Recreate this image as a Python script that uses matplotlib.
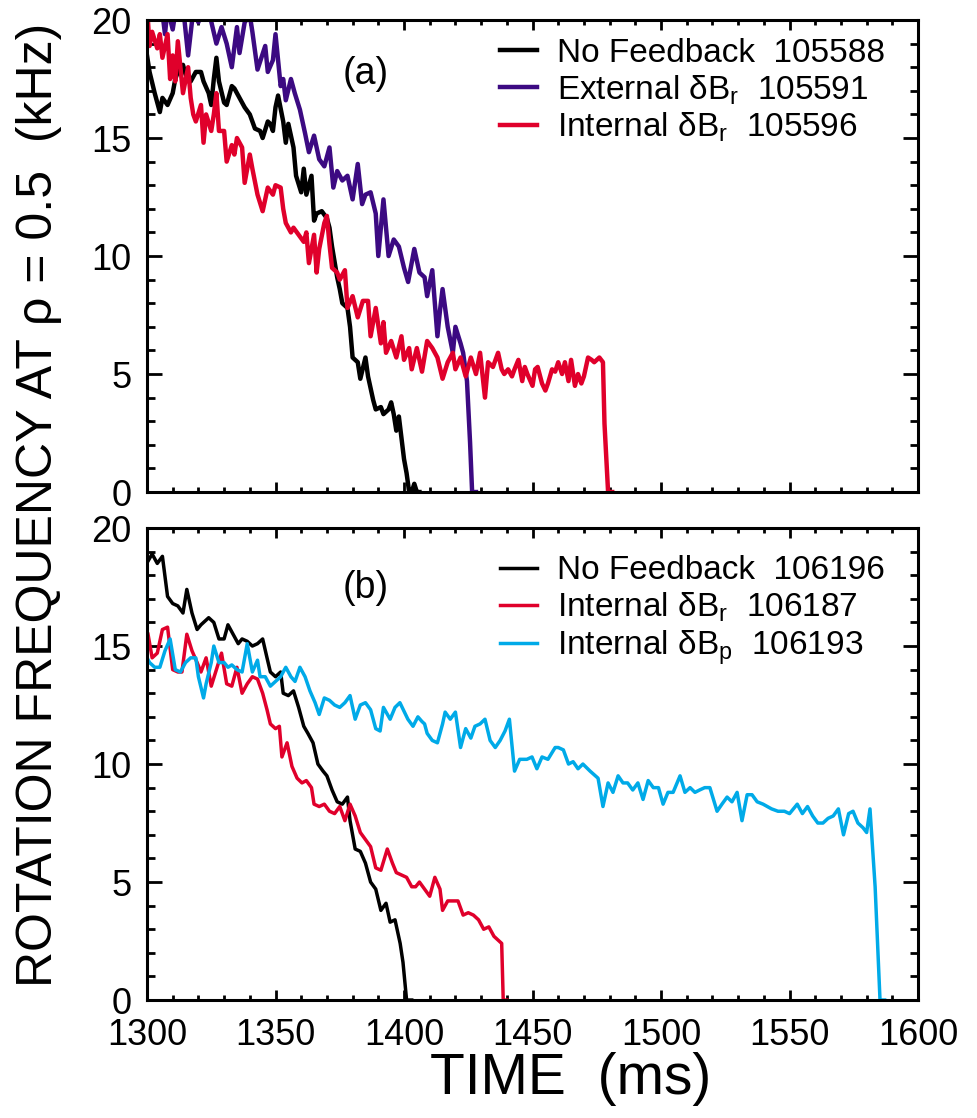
import matplotlib
matplotlib.use("Agg")
import matplotlib.pyplot as plt
from matplotlib.ticker import MultipleLocator

# panel (a): shots 105588 / 105591 / 105596
a_nofb_t = [1300, 1301, 1303, 1305, 1306, 1308, 1310, 1311, 1312, 1314, 1315, 1317, 1319, 1321,
            1322, 1324, 1325, 1326, 1327, 1328, 1330, 1331, 1333, 1334, 1336, 1338, 1340, 1342,
            1344, 1345, 1347, 1348, 1349, 1350, 1351, 1353, 1354, 1355, 1357, 1358, 1360, 1361,
            1362, 1364, 1365, 1366, 1368, 1370, 1371, 1372, 1374, 1375, 1376, 1378, 1379, 1380,
            1382, 1383, 1385, 1386, 1388, 1389, 1391, 1392, 1394, 1395, 1396, 1397, 1398, 1400,
            1401, 1402, 1403, 1404, 1405, 1406]
a_nofb_v = [18.5, 17.8, 16.9, 16.1, 16.7, 16.4, 16.9, 17.5, 17.8, 18.1, 17.7, 17.4, 17.8, 17.8,
            17.4, 16.9, 16.4, 17.5, 18.4, 17.4, 16.5, 16.4, 17.2, 17.1, 16.7, 16.3, 16.0, 15.4,
            15.3, 15.0, 15.7, 15.6, 15.3, 16.3, 16.8, 15.7, 14.8, 15.6, 14.6, 13.4, 12.7, 13.7,
            12.6, 13.4, 11.5, 11.8, 11.9, 11.6, 11.2, 10.4, 9.1, 8.6, 8.0, 7.8, 7.0, 5.7,
            5.5, 4.8, 5.7, 4.9, 3.9, 3.5, 3.6, 3.3, 3.5, 3.8, 3.3, 2.6, 3.2, 1.4,
            0.8, 0.0, 0.0, 0.35, 0.0, 0.0]

a_ext_t = [1300, 1302, 1304, 1306, 1307, 1308, 1310, 1312, 1314, 1316, 1318, 1320, 1322, 1324,
           1327, 1329, 1331, 1333, 1335, 1336, 1338, 1340, 1341, 1343, 1346, 1347, 1349, 1350,
           1352, 1353, 1354, 1356, 1357.5, 1359.5, 1361.5, 1363, 1365, 1367, 1369, 1371, 1372.5,
           1374, 1376, 1378, 1380, 1382, 1383.7, 1385, 1387, 1389, 1390, 1392, 1394, 1396, 1398,
           1400, 1401.6, 1404, 1406, 1408, 1409, 1411, 1413, 1414, 1415, 1417, 1419, 1420, 1422,
           1423, 1424.5, 1425.7, 1426.5, 1428]
a_ext_v = [22.0, 21.5, 21.0, 20.3, 19.4, 20.5, 19.6, 21.0, 20.6, 18.5, 20.4, 19.9, 21.0, 20.4,
           19.0, 19.7, 19.0, 18.0, 19.7, 18.6, 19.9, 20.2, 19.5, 17.9, 18.9, 17.8, 18.3, 19.4,
           17.2, 17.5, 16.6, 17.5, 16.9, 16.2, 15.2, 14.4, 15.1, 14.1, 13.8, 14.6, 12.9,
           13.6, 13.2, 13.4, 12.4, 13.9, 12.2, 12.6, 12.7, 11.8, 10.0, 12.4, 10.0, 10.7, 10.4,
           9.5, 8.9, 10.3, 9.3, 9.1, 8.3, 9.4, 6.6, 7.7, 8.6, 7.0, 5.9, 7.0, 6.3,
           5.9, 4.7, 2.1, 0.0, 0.0]

a_int_t = [1300, 1301, 1302, 1304, 1305, 1306, 1308, 1309, 1310, 1311, 1312, 1314, 1316, 1317,
           1318, 1319, 1321, 1322, 1323, 1325, 1326, 1327, 1328, 1330, 1331, 1333, 1334, 1335,
           1337, 1338, 1340, 1341, 1343, 1345, 1347, 1349, 1350, 1352, 1353, 1354, 1356, 1357,
           1359, 1361, 1362, 1363, 1365, 1366, 1367, 1369, 1370, 1371, 1372, 1374, 1375, 1377,
           1378, 1380, 1382, 1384, 1386, 1387, 1389, 1391, 1392, 1393, 1395, 1397, 1399, 1400,
           1402, 1403, 1405, 1407, 1409, 1411, 1413, 1415, 1417, 1419, 1420, 1422, 1424, 1426,
           1428, 1429.6, 1431.5, 1432.7, 1434.6, 1436.6, 1438, 1439, 1440.5, 1442, 1443, 1444.5,
           1446, 1447, 1448, 1450, 1451, 1452, 1453.7, 1455, 1456, 1457.6, 1458.8, 1460, 1461.5,
           1462.6, 1464, 1465, 1466.5, 1467.7, 1469, 1470, 1471.6, 1473, 1474, 1476, 1477.4,
           1478, 1479.4, 1481]
a_int_v = [20.6, 18.9, 19.5, 18.8, 19.4, 18.4, 19.4, 17.5, 18.5, 17.4, 19.1, 16.9, 18.0, 16.7,
           16.0, 15.7, 16.4, 14.8, 16.0, 15.3, 16.0, 16.9, 15.3, 15.3, 14.0, 14.7, 14.3, 15.0,
           14.6, 13.1, 14.3, 13.7, 12.6, 11.9, 12.9, 12.6, 13.0, 12.9, 12.0, 11.4, 11.0, 11.2,
           10.9, 10.6, 11.0, 9.7, 10.9, 9.3, 10.3, 11.4, 11.7, 10.5, 9.5, 9.3, 9.0, 9.4,
           7.8, 8.3, 7.4, 8.1, 8.1, 6.6, 7.8, 6.3, 7.2, 5.9, 6.4, 5.7, 6.6, 5.6,
           6.1, 5.2, 6.1, 5.1, 6.4, 6.1, 5.7, 4.8, 5.5, 5.9, 5.2, 5.7, 4.9, 5.7,
           5.0, 5.9, 4.0, 5.5, 5.3, 5.9, 5.2, 5.0, 5.2, 4.9, 5.2, 5.6,
           4.7, 5.3, 5.0, 4.5, 5.2, 5.3, 4.6, 4.3, 4.6, 5.2, 5.1, 5.5, 5.0,
           5.5, 4.7, 5.6, 4.5, 5.0, 4.6, 4.9, 5.7, 5.6, 5.5, 5.7, 5.5,
           2.9, 0.0, 0.0]

# panel (b): shots 106196 / 106187 / 106193
b_nofb_t = [1300.4, 1302, 1304, 1306, 1308, 1310, 1312, 1314, 1315.5, 1317.5, 1319.5, 1321, 1324,
            1326, 1328, 1330, 1331.5, 1333.5, 1335.5, 1337, 1339, 1341, 1343, 1345, 1346.7, 1348,
            1350, 1352, 1353, 1355, 1357, 1359, 1361, 1362.6, 1364.6, 1366.5, 1368.5, 1370, 1372,
            1374, 1376, 1378, 1379, 1381, 1383, 1385, 1387, 1389, 1391, 1393, 1394.6, 1396.5,
            1398.5, 1399.6, 1401, 1403]
b_nofb_v = [18.6, 18.9, 18.5, 18.8, 17.1, 16.8, 16.7, 16.4, 17.4, 16.4, 15.7, 15.9, 16.2,
            16.0, 15.3, 15.3, 15.9, 15.5, 15.1, 15.3, 15.2, 15.0, 15.1, 15.3, 14.5, 13.9,
            13.7, 13.9, 13.0, 12.9, 13.1, 12.4, 11.6, 11.3, 10.9, 10.0, 9.7, 9.5, 8.9,
            8.4, 8.3, 8.6, 7.6, 6.4, 6.3, 5.8, 5.0, 4.7, 3.8, 4.1, 3.3, 3.4,
            2.4, 1.6, 0.0, 0.0]

b_intr_t = [1300.4, 1302, 1304, 1306, 1308, 1310, 1312, 1313.6, 1315.5, 1317.5, 1319.5, 1321, 1323,
            1325, 1327, 1329, 1331, 1333, 1335, 1337, 1339, 1341, 1343, 1345, 1346.7, 1348, 1350,
            1351.5, 1352.5, 1354.5, 1356.4, 1358.4, 1360.3, 1362, 1364, 1365, 1367, 1369, 1371,
            1373, 1375, 1377, 1379, 1381, 1383, 1385, 1387, 1389, 1391, 1393.5, 1395.5, 1397,
            1399, 1401, 1403, 1404.5, 1406, 1408, 1410, 1412, 1414, 1415, 1417, 1419, 1421, 1423,
            1425, 1427, 1429, 1431, 1433, 1435, 1437, 1438, 1438.6, 1440]
b_intr_v = [15.5, 14.5, 14.7, 15.7, 15.8, 14.0, 13.9, 13.9, 15.5, 14.8, 14.3, 13.9, 14.5,
            13.3, 14.0, 14.7, 13.4, 13.3, 14.1, 13.0, 13.4, 13.7, 13.6, 13.0, 12.3, 11.7, 11.5,
            11.6, 10.3, 10.9, 9.9, 9.4, 9.2, 9.3, 9.0, 8.3, 8.2, 8.3, 8.0,
            7.9, 8.2, 7.6, 8.3, 7.8, 7.1, 6.8, 6.5, 5.6, 5.5, 6.4, 5.8, 5.4,
            5.3, 5.2, 4.8, 4.8, 5.0, 4.7, 4.4, 5.2, 4.7, 3.8, 4.2, 4.2, 4.2, 3.6,
            3.7, 3.6, 3.4, 3.0, 3.1, 2.7, 2.5, 2.4, 0.0, 0.0]

b_intp_t = [1300, 1301, 1303, 1305, 1307, 1309, 1311, 1313, 1315, 1317, 1319, 1320, 1322, 1323,
            1325, 1326, 1328, 1330, 1331.5, 1333, 1335, 1337, 1339, 1341, 1343, 1344, 1346, 1348,
            1350, 1352, 1354, 1356, 1357.6, 1359.5, 1361.5, 1363.4, 1365.4, 1367, 1369, 1371, 1373,
            1375, 1377, 1379, 1381, 1383, 1385, 1387, 1389, 1390.7, 1392, 1394.6, 1396.5, 1398.4,
            1401.5, 1403.5, 1405.4, 1407, 1408, 1409, 1411, 1413, 1415, 1416, 1418, 1420, 1422,
            1424, 1426, 1427.6, 1429.6, 1431.5, 1433.5, 1435.5, 1437.4, 1439.3, 1441, 1443, 1445,
            1447.8, 1449.8, 1451.7, 1453.7, 1456, 1458.8, 1460, 1462, 1464, 1465.8, 1467.7, 1469.6,
            1472.4, 1475.5, 1477.4, 1479.4, 1481.3, 1483.3, 1485.2, 1487, 1489, 1491, 1493, 1495,
            1497, 1499, 1500.8, 1502.7, 1504.7, 1507.4, 1509.3, 1511.3, 1513.2, 1515, 1517, 1519,
            1521.8, 1523.7, 1525.7, 1527.6, 1529.6, 1531.5, 1533.5, 1535.4, 1537.4, 1539.7, 1543,
            1545.5, 1548, 1550, 1553, 1555, 1557, 1559, 1561, 1563, 1565, 1567, 1569, 1571, 1573,
            1574.7, 1576.6, 1578.6, 1580, 1581.3, 1583.3, 1585.2, 1587]
b_intp_v = [14.5, 14.3, 14.1, 14.1, 14.8, 15.3, 14.0, 13.9, 14.3, 14.5, 14.5, 13.7, 12.8, 13.4,
            14.3, 15.0, 14.3, 14.3, 14.1, 14.2, 14.0, 13.9, 15.1, 13.9, 14.4, 13.7, 13.7, 13.3,
            13.5, 13.7, 14.1, 13.7, 13.5, 14.1, 13.7, 13.1, 12.6, 12.1, 12.8, 12.7, 12.5,
            12.4, 12.6, 12.9, 11.9, 12.5, 12.6, 12.3, 11.5, 11.4, 12.4, 11.9, 12.4, 12.6,
            11.9, 11.6, 12.0, 11.8, 11.7, 11.3, 11.0, 10.9, 11.7, 12.2, 11.9, 12.2, 10.7,
            11.5, 11.1, 11.6, 11.7, 11.9, 11.0, 10.7, 11.0, 11.4, 11.9, 9.7, 10.2,
            10.2, 10.3, 9.8, 10.3, 10.2, 10.7, 10.7, 10.6, 10.0, 10.1, 9.8, 10.0,
            9.7, 9.4, 8.2, 9.2, 8.8, 9.5, 9.2, 9.2, 8.9, 9.2, 8.5, 9.3,
            9.0, 9.0, 8.3, 8.8, 8.8, 9.5, 8.8, 9.0, 8.8, 8.9, 9.0, 9.0,
            8.0, 8.3, 8.6, 8.4, 8.8, 7.6, 8.7, 8.7, 8.4, 8.3, 8.1,
            8.0, 8.0, 7.9, 8.3, 7.9, 8.2, 7.8, 7.5, 7.5, 7.7, 7.8, 8.1, 7.0, 7.9,
            8.0, 7.5, 7.3, 7.1, 8.1, 4.8, 0.0, 0.0]

labels_a = ["No Feedback  105588",
            r"External δB$_\mathregular{r}$  105591",
            r"Internal δB$_\mathregular{r}$  105596"]
labels_b = ["No Feedback  106196",
            r"Internal δB$_\mathregular{r}$  106187",
            r"Internal δB$_\mathregular{p}$  106193"]

BLACK = "#000000"
PURPLE = "#3c0a82"
RED = "#e0002b"
CYAN = "#00aae8"

plt.rcParams["font.family"] = ["Liberation Sans", "DejaVu Sans"]
plt.rcParams["mathtext.fontset"] = "custom"
plt.rcParams["mathtext.rm"] = "Liberation Sans"

fig = plt.figure(figsize=(9.78, 11.18), dpi=100)
ax_a = fig.add_axes([0.1503, 0.5599, 0.7884, 0.4222])
ax_b = fig.add_axes([0.1503, 0.1055, 0.7884, 0.4222])

ax_a.plot(a_nofb_t, a_nofb_v, color=BLACK, lw=3.2, label=labels_a[0])
ax_a.plot(a_ext_t, a_ext_v, color=PURPLE, lw=3.2, label=labels_a[1])
ax_a.plot(a_int_t, a_int_v, color=RED, lw=3.2, label=labels_a[2])

ax_b.plot(b_nofb_t, b_nofb_v, color=BLACK, lw=2.5, label=labels_b[0])
ax_b.plot(b_intr_t, b_intr_v, color=RED, lw=2.5, label=labels_b[1])
ax_b.plot(b_intp_t, b_intp_v, color=CYAN, lw=2.5, label=labels_b[2])

# per-panel tag position and legend anchor (axes fractions)
panels = [(ax_a, "(a)", 0.885, 0.962), (ax_b, "(b)", 0.874, 0.942)]

for ax, tag, tag_y, leg_y in panels:
    ax.set_xlim(1300, 1600)
    ax.set_ylim(0, 20)
    ax.xaxis.set_major_locator(MultipleLocator(50))
    ax.xaxis.set_minor_locator(MultipleLocator(10))
    ax.yaxis.set_major_locator(MultipleLocator(5))
    ax.yaxis.set_minor_locator(MultipleLocator(1))
    ax.tick_params(axis="both", which="both", direction="in", top=True, right=True,
                   width=2.0, labelsize=26)
    ax.tick_params(axis="y", which="major", length=11, pad=11)
    ax.tick_params(axis="y", which="minor", length=6)
    ax.tick_params(axis="x", which="major", length=7.5, pad=13)
    ax.tick_params(axis="x", which="minor", length=3.8)
    for sp in ax.spines.values():
        sp.set_linewidth(2.2)
    ax.text(0.283, tag_y, tag, transform=ax.transAxes, fontsize=27,
            ha="center", va="center")
    ax.legend(loc="upper left", bbox_to_anchor=(0.458, leg_y), frameon=False,
              fontsize=24, handlelength=1.1, handletextpad=0.6, labelspacing=0.12,
              borderpad=0, borderaxespad=0)

ax_a.tick_params(axis="x", labelbottom=False)

fig.text(0.040, 0.548, "ROTATION FREQUENCY AT ρ = 0.5  (kHz)", rotation=90,
         fontsize=36, ha="center", va="center")
fig.text(0.583, 0.035, "TIME  (ms)", fontsize=41, ha="center", va="center")

fig.savefig("out.png", dpi=100)
